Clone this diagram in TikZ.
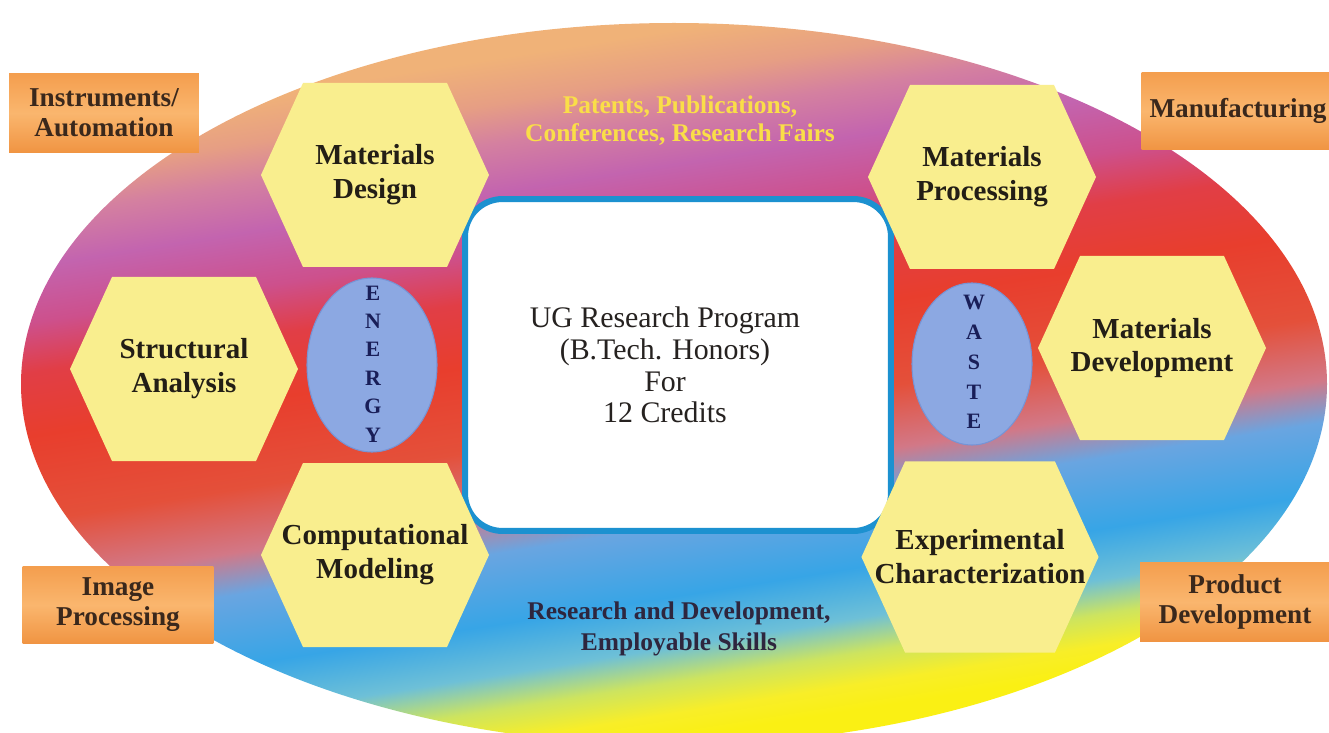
\documentclass[tikz,border=0pt]{standalone}
\usepackage{fontspec}
\setmainfont{Liberation Serif}

% palette
\definecolor{hexyellow}{RGB}{249,238,142}
\definecolor{hexink}{RGB}{35,30,22}
\definecolor{tagtop}{RGB}{244,158,78}
\definecolor{tagmid}{RGB}{250,182,110}
\definecolor{tagbottom}{RGB}{240,148,66}
\definecolor{tagink}{RGB}{58,40,28}
\definecolor{rimblue}{RGB}{28,145,208}
\definecolor{ovalblue}{RGB}{140,168,226}
\definecolor{ovaledge}{RGB}{118,148,214}
\definecolor{navyink}{RGB}{25,30,88}
\definecolor{goldink}{RGB}{250,222,72}
\definecolor{duskink}{RGB}{46,38,62}
\definecolor{coreink}{RGB}{38,34,32}

% rainbow stops, bottom (yellow) to top (peach)
\definecolor{rbY}{RGB}{250,240,20}
\definecolor{rbYb}{RGB}{248,238,40}
\definecolor{rbG}{RGB}{205,228,95}
\definecolor{rbC}{RGB}{110,192,215}
\definecolor{rbB}{RGB}{55,165,230}
\definecolor{rbBb}{RGB}{105,165,225}
\definecolor{rbP}{RGB}{210,120,135}
\definecolor{rbRb}{RGB}{228,80,58}
\definecolor{rbR}{RGB}{232,62,45}
\definecolor{rbRa}{RGB}{225,62,70}
\definecolor{rbM}{RGB}{205,80,140}
\definecolor{rbV}{RGB}{195,100,175}
\definecolor{rbPk}{RGB}{212,128,160}
\definecolor{rbS}{RGB}{230,158,132}
\definecolor{rbO}{RGB}{240,178,120}

\pgfdeclareverticalshading{rainbowband}{100bp}{%
  color(0bp)=(rbY); color(28.15bp)=(rbY); color(29.7bp)=(rbYb);
  color(31.65bp)=(rbG); color(33.8bp)=(rbC); color(36.9bp)=(rbB);
  color(41.3bp)=(rbBb); color(43.9bp)=(rbP); color(47.8bp)=(rbRb);
  color(53.1bp)=(rbR); color(57bp)=(rbRa); color(60.05bp)=(rbM);
  color(63.55bp)=(rbV); color(66.6bp)=(rbPk); color(69bp)=(rbS);
  color(71.85bp)=(rbO); color(100bp)=(rbO)}

\tikzset{
  hexfill/.style={fill=hexyellow},
  hexlabel/.style={font=\fontsize{16.5}{19.3}\selectfont\bfseries,
    text=hexink, align=center, inner sep=0pt},
  tagbox/.style={rectangle, inner sep=0pt, top color=tagtop,
    bottom color=tagbottom, middle color=tagmid,
    font=\fontsize{15.5}{17}\selectfont\bfseries, text=tagink, align=center},
  ovalfill/.style={fill=ovalblue, draw=ovaledge, line width=0.6pt},
  ovalletters/.style={font=\fontsize{12.5}{16.2}\selectfont\bfseries,
    text=navyink, align=center, inner sep=0pt},
  corebox/.style={draw=rimblue, line width=0.12cm, fill=white,
    rounded corners=0.75cm, inner sep=0pt},
  corelabel/.style={font=\fontsize{17}{18.1}\selectfont, text=coreink,
    align=center, inner sep=0pt},
  banner/.style={font=\fontsize{14.5}{#1}\selectfont\bfseries,
    align=center, inner sep=0pt},
}

% hexagon cell: [scale]{name}{x}{y}{label}
\newcommand\hexcell[5][1]{%
  \begin{scope}[shift={(#3,#4)}, scale=#1]
    \fill[hexfill] (-114,0) -- (-72,92) -- (72,92) -- (114,0)
      -- (72,-92) -- (-72,-92) -- cycle;
  \end{scope}
  \node[hexlabel] (#2) at (#3,#4) {#5};}

\begin{document}
\begin{tikzpicture}[x=0.02cm, y=-0.02cm]
  \useasboundingbox (0,0) rectangle (1329,733);
  \fill[white] (0,0) rectangle (1329,733);

  % rainbow field
  \shade[shading=rainbowband, shading angle=9]
    (674,384) ellipse [x radius=653, y radius=361];

  % programme core
  \node[corebox, minimum width=8.52cm, minimum height=6.64cm] (core) at (678,365) {};
  \node[corelabel] (coretext) at (665,365)
    {UG Research Program\\(B.Tech. Honors)\\For\\12 Credits};

  % hexagon cells
  \hexcell{design}{375}{175}{Materials\\Design}
  \hexcell{structural}{184}{369}{Structural\\Analysis}
  \hexcell{computational}{375}{555}{Computational\\Modeling}
  \hexcell{processing}{982}{177}{Materials\\Processing}
  \hexcell{development}{1152}{348}{Materials\\Development}
  \hexcell[1.04]{experimental}{980}{557}{Experimental\\Characterization}

  % energy and waste ovals
  \path[ovalfill] (372,365) ellipse [x radius=65, y radius=87];
  \node[ovalletters] (energy) at (373,364) {E\\N\\E\\R\\G\\Y};
  \path[ovalfill] (972,364) ellipse [x radius=60, y radius=81];
  \node[ovalletters, font=\fontsize{12.5}{17}\selectfont\bfseries] (waste) at (974,362) {W\\A\\S\\T\\E};

  % outcome banners
  \node[banner=15.9, text=goldink] (outputs) at (680,121)
    {Patents, Publications,\\Conferences, Research Fairs};
  \node[banner=18, text=duskink] (skills) at (679,629)
    {Research and Development,\\Employable Skills};

  % application tags
  \node[tagbox, minimum width=3.8cm, minimum height=1.6cm] (instruments) at (104,113)
    {Instruments/\\Automation};
  \node[tagbox, minimum width=3.86cm, minimum height=1.56cm] (manufacturing) at (1238,111)
    {Manufacturing};
  \node[tagbox, minimum width=3.82cm, minimum height=1.54cm] (imaging) at (118,605)
    {Image\\Processing};
  \node[tagbox, minimum width=3.8cm, minimum height=1.58cm] (product) at (1235,602)
    {Product\\Development};
\end{tikzpicture}
\end{document}
